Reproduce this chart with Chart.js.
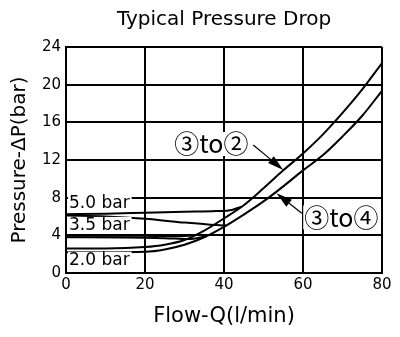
<!DOCTYPE html>
<html>
<head>
<meta charset="utf-8">
<script src="https://cdn.jsdelivr.net/npm/chart.js@4"></script>
<style>
  body { margin: 0; background: #fff; }
</style>
</head>
<body>
<canvas id="pressureChart" width="400" height="337"></canvas>
<script>
// main pressure drop curves
const flow = [0, 10, 20, 25, 30, 35, 40, 45, 50, 55, 60, 65, 70, 75, 80];
const drop3to2 = [2.6, 2.6, 2.75, 3.0, 3.5, 4.5, 5.8, 7.2, 9.0, 10.9, 12.7, 14.7, 17.0, 19.5, 22.3];
const drop3to4 = [2.2, 2.2, 2.25, 2.5, 3.0, 3.8, 4.9, 6.2, 7.6, 9.2, 10.9, 12.5, 14.5, 16.7, 19.35];

// 5.0 bar and 3.5 bar branches before they join the main curves
const flow50a = [0, 10, 20, 30, 38, 42, 44.5];
const drop50a = [6.25, 6.3, 6.4, 6.5, 6.58, 6.7, 7.05];
const flow50b = [0, 10, 20, 30, 36, 40.5];
const drop50b = [6.1, 6.0, 5.75, 5.35, 5.15, 5.05];
const flow35a = [0, 10, 20, 28, 32.5];
const drop35a = [3.95, 3.95, 3.95, 3.9, 4.0];
const flow35b = [0, 15, 25, 31, 35.5];
const drop35b = [3.8, 3.78, 3.7, 3.6, 3.9];

const xTicks = [0, 20, 40, 60, 80];
const yTicks = [0, 4, 8, 12, 16, 20, 24];

// text notes (data units)
const settingLabels = ["5.0 bar", "3.5 bar", "2.0 bar"];
const settingY = [7.4, 5.0, 1.3];
const pathLabels = ["③to②", "③to④"];
const pathLabelPos = [[36.8, 13.7], [69.7, 5.9]];
const arrowFrom = [[47.4, 13.6], [59.7, 6.34]];
const arrowTo = [[55, 10.95], [53.3, 8.46]];

const pts = (xs, ys) => xs.map((x, i) => ({ x: x, y: ys[i] }));

const lineStyle = {
  borderColor: "#000",
  borderWidth: 2,
  pointRadius: 0,
  fill: false,
  cubicInterpolationMode: "monotone",
};

const notesPlugin = {
  id: "notes",
  afterDatasetsDraw(chart) {
    const ctx = chart.ctx;
    const xs = chart.scales.x;
    const ys = chart.scales.y;
    ctx.save();

    // setting labels with white box
    ctx.font = "17px 'DejaVu Sans'";
    ctx.textBaseline = "middle";
    ctx.textAlign = "left";
    settingLabels.forEach((t, i) => {
      const px = xs.getPixelForValue(0) + 3;
      const py = ys.getPixelForValue(settingY[i]);
      const w = ctx.measureText(t).width;
      ctx.fillStyle = "#fff";
      ctx.fillRect(px - 1, py - 9, w + 3, 17);
      ctx.fillStyle = "#000";
      ctx.fillText(t, px, py);
    });

    // path labels
    ctx.font = "25px 'Noto Sans CJK JP'";
    ctx.textAlign = "center";
    pathLabels.forEach((t, i) => {
      const px = xs.getPixelForValue(pathLabelPos[i][0]);
      const py = ys.getPixelForValue(pathLabelPos[i][1]);
      const w = ctx.measureText(t).width;
      ctx.fillStyle = "#fff";
      ctx.fillRect(px - w / 2 - 1, py - 12, w + 2, 24);
      ctx.fillStyle = "#000";
      ctx.fillText(t, px, py);
    });

    // arrows
    arrowFrom.forEach((f, i) => {
      const x1 = xs.getPixelForValue(f[0]);
      const y1 = ys.getPixelForValue(f[1]);
      const x2 = xs.getPixelForValue(arrowTo[i][0]);
      const y2 = ys.getPixelForValue(arrowTo[i][1]);
      const a = Math.atan2(y2 - y1, x2 - x1);
      const len = 16, half = 4.5;
      ctx.strokeStyle = "#000";
      ctx.lineWidth = 1.2;
      ctx.beginPath();
      ctx.moveTo(x1, y1);
      ctx.lineTo(x2 - len * Math.cos(a), y2 - len * Math.sin(a));
      ctx.stroke();
      ctx.beginPath();
      ctx.moveTo(x2, y2);
      ctx.lineTo(x2 - len * Math.cos(a) + half * Math.sin(a), y2 - len * Math.sin(a) - half * Math.cos(a));
      ctx.lineTo(x2 - len * Math.cos(a) - half * Math.sin(a), y2 - len * Math.sin(a) + half * Math.cos(a));
      ctx.closePath();
      ctx.fillStyle = "#000";
      ctx.fill();
    });
    ctx.restore();
  },
};

Chart.defaults.font.family = "'DejaVu Sans'";
Chart.defaults.color = "#000";

new Chart(document.getElementById("pressureChart").getContext("2d"), {
  type: "line",
  data: {
    datasets: [
      { ...lineStyle, data: pts(flow, drop3to2) },
      { ...lineStyle, data: pts(flow, drop3to4) },
      { ...lineStyle, data: pts(flow50a, drop50a) },
      { ...lineStyle, data: pts(flow50b, drop50b) },
      { ...lineStyle, data: pts(flow35a, drop35a) },
      { ...lineStyle, data: pts(flow35b, drop35b) },
    ],
  },
  options: {
    responsive: false,
    animation: false,
    layout: { padding: { right: 18 } },
    plugins: {
      legend: { display: false },
      tooltip: { enabled: false },
      title: {
        display: true,
        fullSize: false,
        text: "Typical Pressure Drop",
        font: { size: 20, weight: "normal" },
        color: "#000",
        padding: { top: 8, bottom: 15 },
      },
    },
    scales: {
      x: {
        type: "linear",
        min: 0,
        max: 80,
        afterBuildTicks: (s) => { s.ticks = xTicks.map((v) => ({ value: v })); },
        ticks: { font: { size: 15 }, color: "#000", padding: 3 },
        grid: { color: "#000", lineWidth: 2, drawTicks: false },
        border: { color: "#000", width: 2 },
        title: {
          display: true,
          text: "Flow-Q(l/min)",
          font: { size: 21 },
          color: "#000",
          padding: { top: 0, bottom: 8 },
        },
        afterFit: (s) => { s.height = 64; },
      },
      y: {
        min: 0,
        max: 24,
        afterBuildTicks: (s) => { s.ticks = yTicks.map((v) => ({ value: v })); },
        ticks: { font: { size: 15 }, color: "#000", padding: 5 },
        grid: { color: "#000", lineWidth: 2, drawTicks: false },
        border: { color: "#000", width: 2 },
        title: {
          display: true,
          text: "Pressure-ΔP(bar)",
          font: { size: 20 },
          color: "#000",
          padding: { top: 8, bottom: 0 },
        },
        afterFit: (s) => { s.width = 66; },
      },
    },
  },
  plugins: [notesPlugin],
});
</script>
</body>
</html>
